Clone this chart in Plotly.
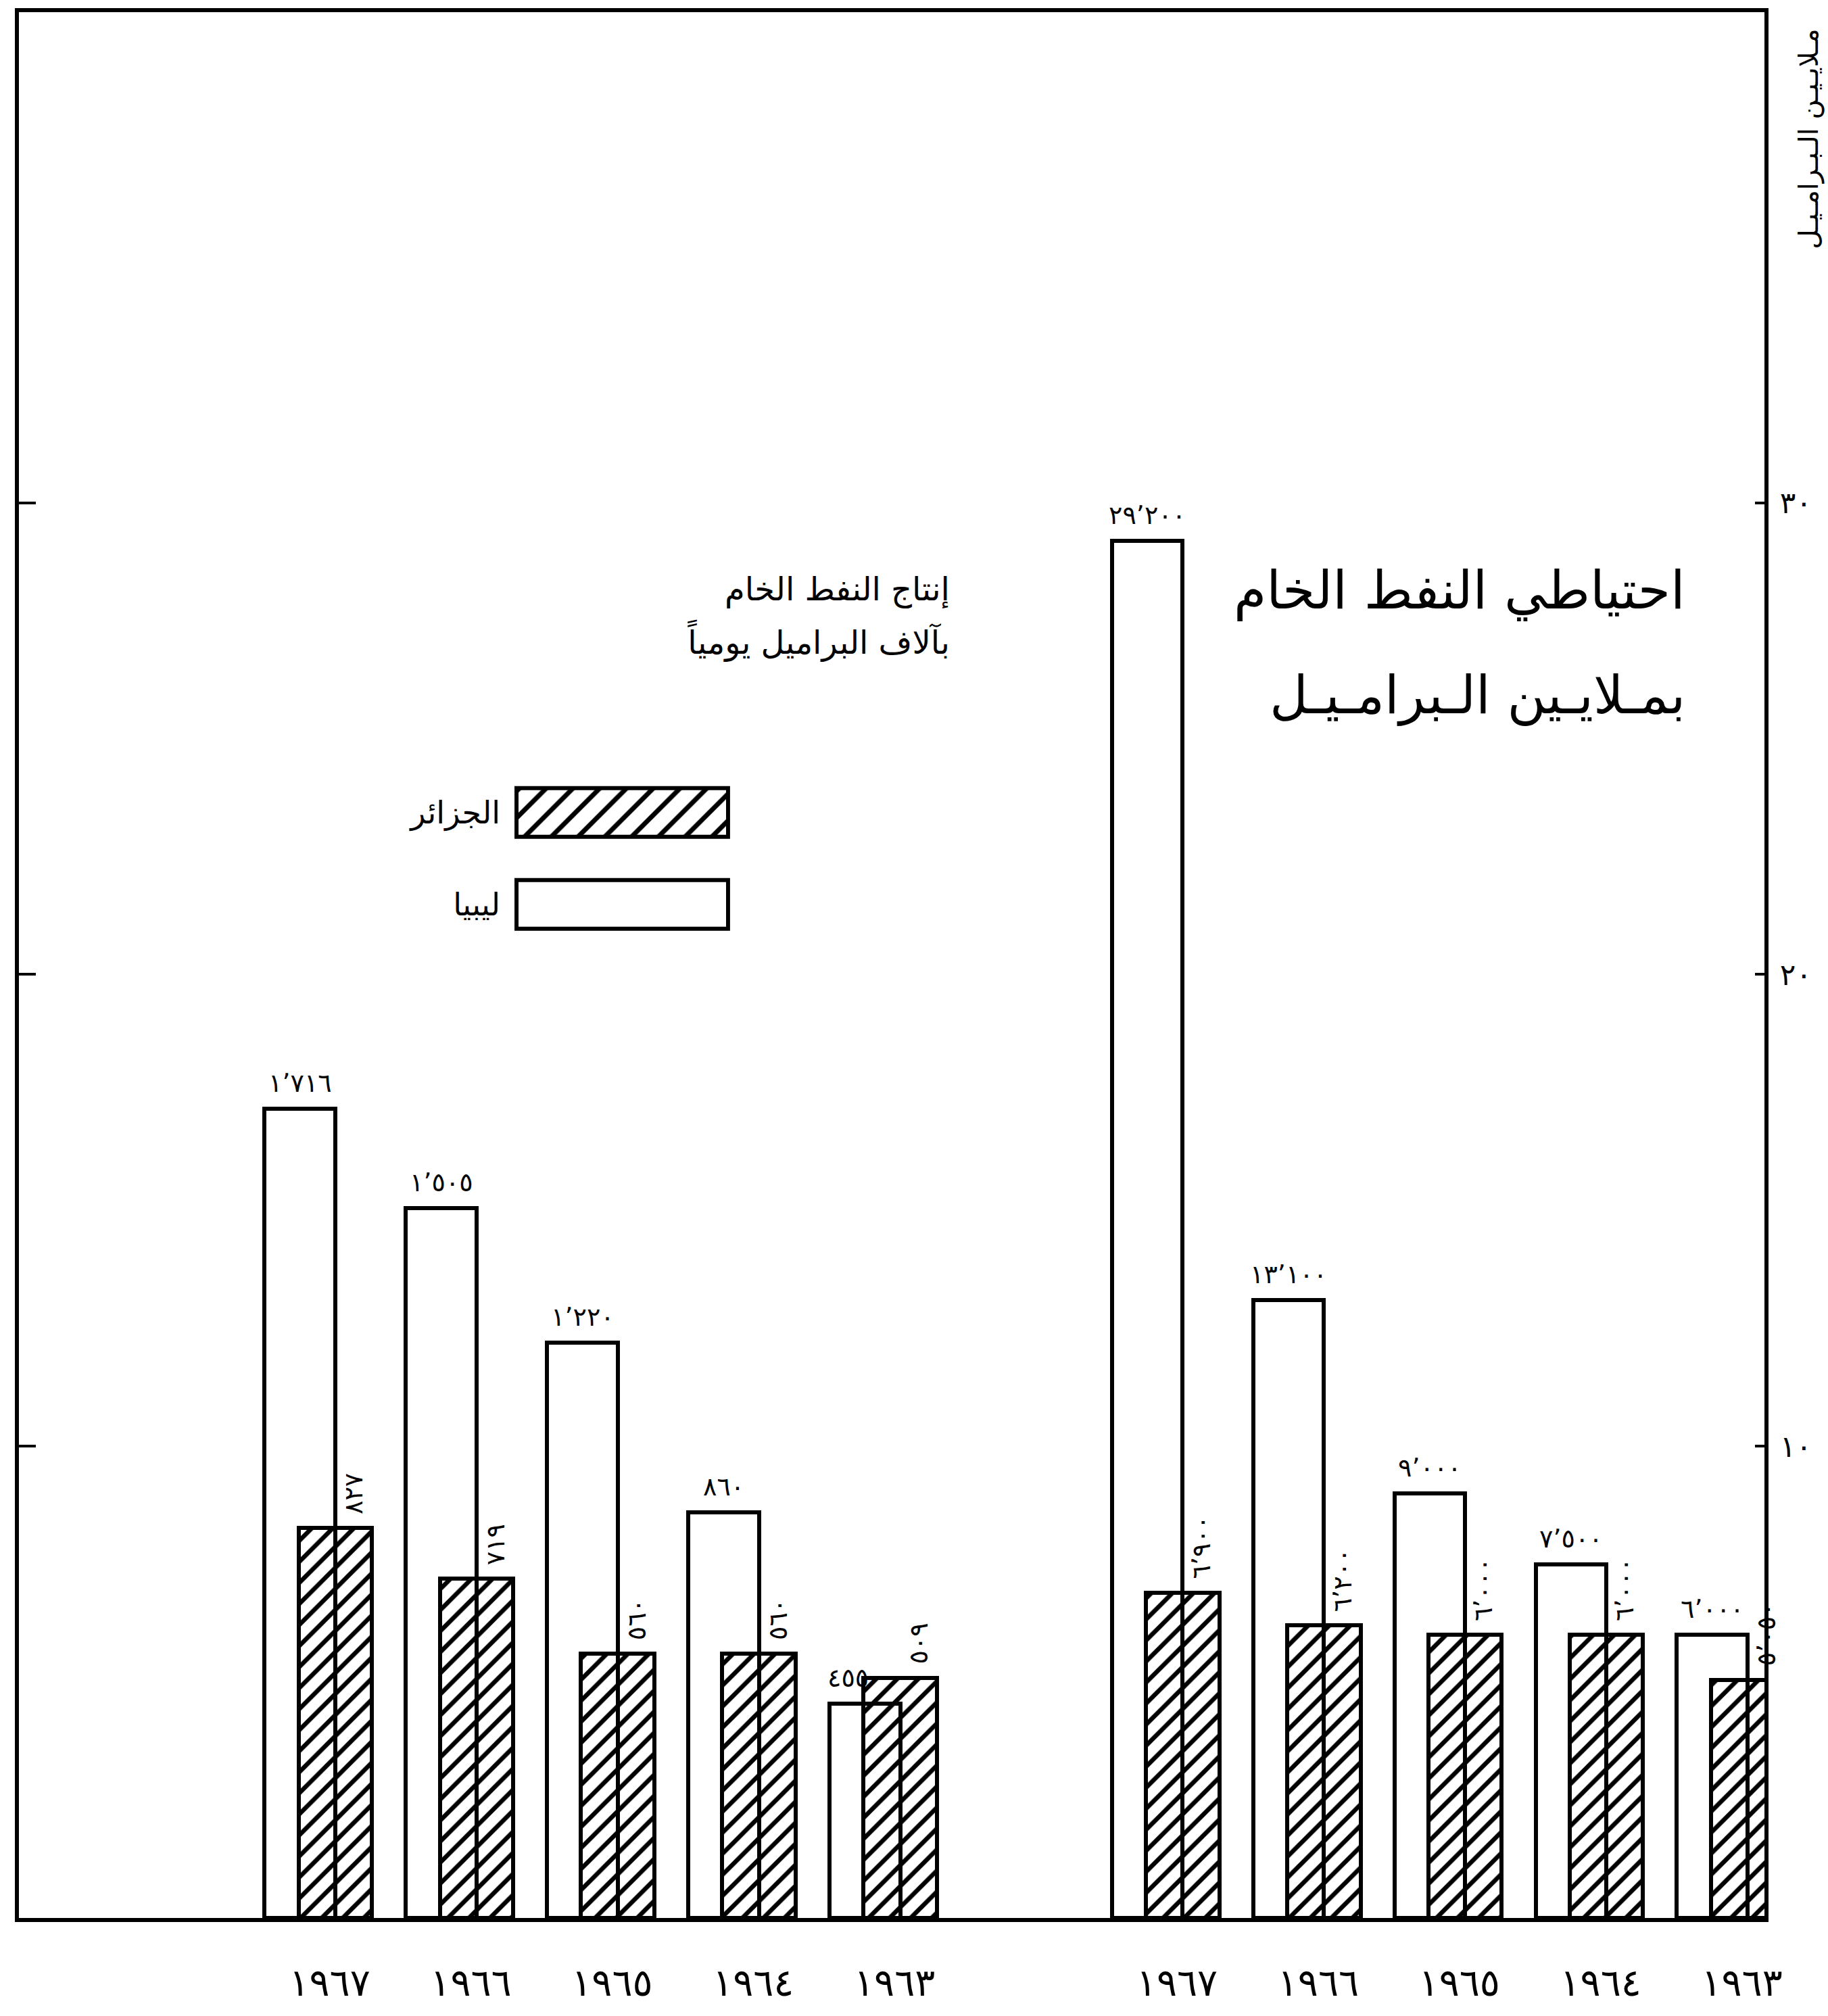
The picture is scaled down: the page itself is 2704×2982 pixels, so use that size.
import plotly.graph_objects as go

# ---------------- data ----------------
years = [1967, 1966, 1965, 1964, 1963]
libya_production = [1716, 1505, 1220, 860, 455]      # thousand barrels / day
algeria_production = [827, 719, 560, 560, 509]
libya_reserves = [29200, 13100, 9000, 7500, 6000]    # million barrels
algeria_reserves = [6900, 6200, 6000, 6000, 5050]
reserve_ticks = [10000, 20000, 30000]
production_ticks = [1000, 2000, 3000]

AR = str.maketrans("0123456789", "٠١٢٣٤٥٦٧٨٩")


def ar(n, sep=True):
    s = f"{n:,}" if sep else str(n)
    return s.replace(",", "٬").translate(AR)


year_text = [ar(y, sep=False) for y in years]
prod_keys = [f"إنتاج {y}" for y in years]
res_keys = [f"احتياطي {y}" for y in years]
spacer = "·"
cat_order = prod_keys + [spacer] + res_keys

FONT = "DejaVu Sans"
W, H = 2704, 2982
ML, MR, MT, MB = 28, 94, 15, 145
PW = W - ML - MR
XR = [-2.2, 10.16]
U = PW / (XR[1] - XR[0])  # px per category

LIB_OFF, LIB_W = -0.46, 0.50
ALG_OFF, ALG_W = -0.22, 0.52

hatch = dict(shape="/", fgcolor="black", bgcolor="white", size=22, solidity=0.3, fillmode="replace")
line = dict(color="black", width=6)

fig = go.Figure()

# Algeria (hatched) first, Libya outline on top
fig.add_trace(go.Bar(x=prod_keys, y=algeria_production, offset=ALG_OFF, width=ALG_W,
                     marker=dict(color="white", line=line, pattern=hatch), yaxis="y",
                     showlegend=False, hoverinfo="skip"))
fig.add_trace(go.Bar(x=prod_keys, y=libya_production, offset=LIB_OFF, width=LIB_W,
                     marker=dict(color="rgba(255,255,255,0)", line=line), yaxis="y",
                     showlegend=False, hoverinfo="skip"))
fig.add_trace(go.Bar(x=res_keys, y=algeria_reserves, offset=ALG_OFF, width=ALG_W,
                     marker=dict(color="white", line=line, pattern=hatch), yaxis="y2",
                     showlegend=False, hoverinfo="skip"))
fig.add_trace(go.Bar(x=res_keys, y=libya_reserves, offset=LIB_OFF, width=LIB_W,
                     marker=dict(color="rgba(255,255,255,0)", line=line), yaxis="y2",
                     showlegend=False, hoverinfo="skip"))

# legend swatches as a tiny horizontal bar chart
legend_names = ["الجزائر", "ليبيا"]
fig.add_trace(go.Bar(orientation="h", x=[1, 1], y=legend_names, xaxis="x2", yaxis="y3", width=0.53,
                     marker=dict(color="white", line=line,
                                 pattern=dict(shape=["/", ""], fgcolor="black", bgcolor="white",
                                              size=28, solidity=0.25, fillmode="replace")),
                     showlegend=False, hoverinfo="skip"))

annotations = []
lab_font = dict(family=FONT, size=38, color="black")
for keys, lib, alg, yref in [(prod_keys, libya_production, algeria_production, "y"),
                             (res_keys, libya_reserves, algeria_reserves, "y2")]:
    for k, lv, av in zip(keys, lib, alg):
        shift_l = (LIB_OFF + LIB_W / 2) * U
        if av > lv:  # keep the label clear of the taller hatched bar
            shift_l -= 0.12 * U
        annotations.append(dict(x=k, y=lv, xref="x", yref=yref, text=ar(lv), showarrow=False,
                                xanchor="center", yanchor="bottom",
                                xshift=shift_l, yshift=14, font=lab_font))
        annotations.append(dict(x=k, y=av, xref="x", yref=yref, text=ar(av), showarrow=False,
                                xanchor="center", yanchor="bottom", textangle=-90,
                                xshift=36, yshift=18, font=lab_font))

title_small = dict(family=FONT, size=48, color="black")
title_big = dict(family=FONT, size=78, color="black")
annotations += [
    dict(text="إنتاج النفط الخام", xref="paper", yref="paper", x=0.534, y=0.6974,
         xanchor="right", yanchor="middle", showarrow=False, font=title_small),
    dict(text="بآلاف البراميل يومياً", xref="paper", yref="paper", x=0.534, y=0.6704,
         xanchor="right", yanchor="middle", showarrow=False, font=title_small),
    dict(text="احتياطي النفط الخام", xref="paper", yref="paper", x=0.9555, y=0.6967,
         xanchor="right", yanchor="middle", showarrow=False, font=title_big),
    dict(text="بمـلايـين الـبرامـيـل", xref="paper", yref="paper", x=0.9555, y=0.6414,
         xanchor="right", yanchor="middle", showarrow=False, font=title_big),
    dict(text="مـلايـيـن الـبـرامـيـل", xref="paper", yref="paper", x=1.0255, y=0.992,
         xanchor="center", yanchor="top", textangle=-90, showarrow=False,
         font=dict(family=FONT, size=40, color="black")),
]

fig.update_layout(
    width=W, height=H, autosize=False,
    margin=dict(l=ML, r=MR, t=MT, b=MB, pad=0),
    paper_bgcolor="white", plot_bgcolor="white",
    barmode="overlay", bargap=0,
    font=dict(family=FONT, color="black"),
    xaxis=dict(type="category", categoryorder="array", categoryarray=cat_order, range=XR,
               tickmode="array", tickvals=prod_keys + res_keys, ticktext=year_text + year_text,
               ticks="", showline=True, mirror=True, linecolor="black", linewidth=6,
               showgrid=False, zeroline=False, tickfont=dict(family=FONT, size=56),
               ticklabelstandoff=42),
    yaxis=dict(range=[0, 4040], tickmode="array", tickvals=production_ticks, ticks="inside",
               ticklen=25, tickwidth=4, tickcolor="black", showticklabels=False,
               showline=True, linecolor="black", linewidth=6, showgrid=False, zeroline=False),
    yaxis2=dict(range=[0, 40400], overlaying="y", side="right", tickmode="array",
                tickvals=reserve_ticks, ticktext=[ar(v // 1000) for v in reserve_ticks],
                ticks="inside", ticklen=14, tickwidth=4, tickcolor="black",
                showline=True, linecolor="black", linewidth=6, showgrid=False, zeroline=False,
                tickfont=dict(family=FONT, size=44), ticklabelstandoff=8),
    xaxis2=dict(domain=[0.2839, 0.4074], range=[-0.01, 1.01], visible=False, anchor="y3",
                fixedrange=True),
    yaxis3=dict(domain=[0.5078, 0.6042], anchor="x2", type="category", categoryorder="array",
                categoryarray=["ليبيا", "الجزائر"], ticks="", showline=False, showgrid=False,
                zeroline=False, tickfont=dict(family=FONT, size=46), ticklabelstandoff=20),
    annotations=annotations,
)

fig.write_html("out.html", config={"displayModeBar": False},
               post_script="document.body.style.margin='0px';")
